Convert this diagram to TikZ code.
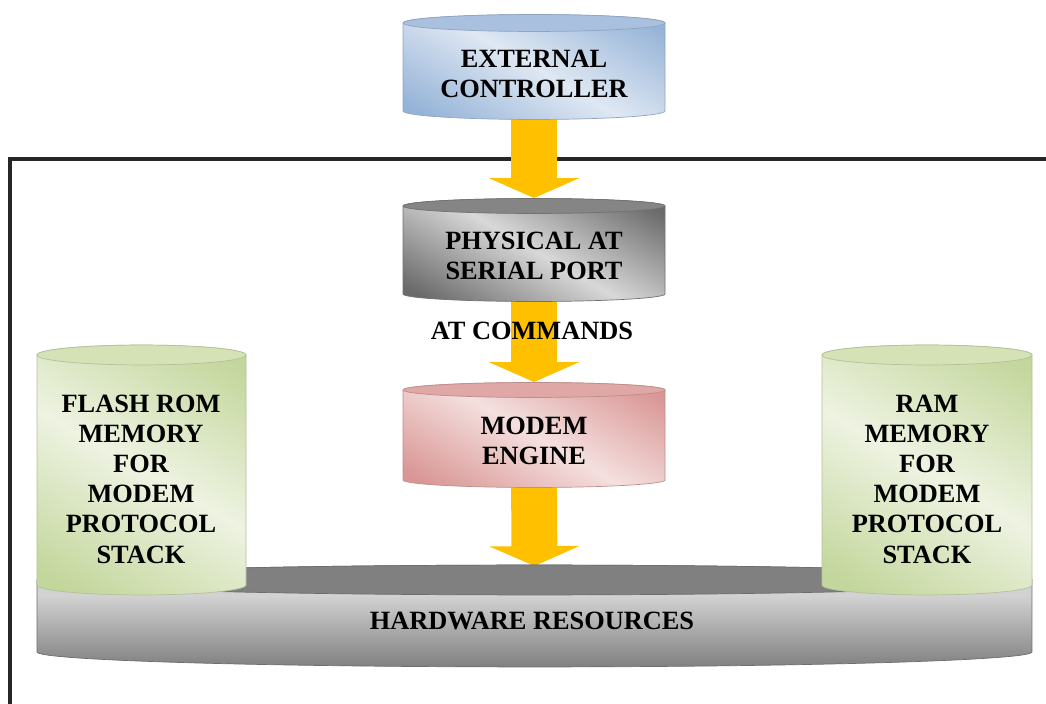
\documentclass[tikz,border=0pt]{standalone}
\usepackage{fontspec}
\setmainfont{Liberation Serif}
\usetikzlibrary{calc,arrows.meta,fit}

\definecolor{blueD}{HTML}{95B3D7}
\definecolor{blueL}{HTML}{DFE8F3}
\definecolor{blueT}{HTML}{A9C1DF}
\definecolor{greyD}{HTML}{6A6A6A}
\definecolor{greyL}{HTML}{D8D8D8}
\definecolor{greyT}{HTML}{858585}
\definecolor{pinkD}{HTML}{D99694}
\definecolor{pinkL}{HTML}{F4E0DF}
\definecolor{pinkT}{HTML}{DFA7A5}
\definecolor{greenD}{HTML}{C3D69B}
\definecolor{greenL}{HTML}{EEF3E2}
\definecolor{greenT}{HTML}{D4E2B6}
\definecolor{hwD}{HTML}{808080}
\definecolor{hwL}{HTML}{D2D2D2}
\definecolor{hwT}{HTML}{808080}
\definecolor{arrowY}{HTML}{FFC000}

\pgfdeclarehorizontalshading{blueshade}{100bp}{color(0bp)=(blueD); color(20bp)=(blueD); color(50bp)=(blueL); color(80bp)=(blueD); color(100bp)=(blueD)}
\pgfdeclarehorizontalshading{greyshade}{100bp}{color(0bp)=(greyD); color(20bp)=(greyD); color(50bp)=(greyL); color(80bp)=(greyD); color(100bp)=(greyD)}
\pgfdeclarehorizontalshading{pinkshade}{100bp}{color(0bp)=(pinkD); color(20bp)=(pinkD); color(50bp)=(pinkL); color(80bp)=(pinkD); color(100bp)=(pinkD)}
\pgfdeclarehorizontalshading{greenshade}{100bp}{color(0bp)=(greenD); color(20bp)=(greenD); color(50bp)=(greenL); color(80bp)=(greenD); color(100bp)=(greenD)}
\pgfdeclareverticalshading{hwshade}{100bp}{color(0bp)=(hwD); color(25bp)=(hwD); color(60bp)=(hwL); color(100bp)=(hwL)}

\newcommand\drawcyl[5]{%
  \path[shading=#3, shading angle=#5, draw=#4!85!black, line width=0.4pt]
    let \p1=(#1.north west), \p2=(#1.south east) in
    (\x1,\y1) -- (\x1,\y2)
    arc[start angle=180, end angle=360, x radius={0.5*(\x2-\x1)}, y radius={#2*0.5669pt}]
    -- (\x2,\y1)
    arc[start angle=0, end angle=180, x radius={0.5*(\x2-\x1)}, y radius={#2*0.5669pt}]
    -- cycle;
  \path[fill=#4, draw=#4!85!black, line width=0.4pt]
    let \p1=(#1.north west), \p2=(#1.south east) in
    (#1.north) ellipse[x radius={0.5*(\x2-\x1)}, y radius={#2*0.5669pt}];
}

\tikzset{
  cylbox/.style={inner sep=0pt, outer sep=0pt},
  lbl/.style={font=\fontsize{15}{17.2}\selectfont\bfseries, align=center, text=black, inner sep=0pt},
  bigarrow/.style={draw=arrowY, line width=26.1pt, -{Triangle[width=51pt,length=11.3pt]}},
  frameline/.style={line width=2pt, black!85},
}

\begin{document}
\begin{tikzpicture}[x=0.02cm, y=0.02cm]
\useasboundingbox (0,0) rectangle (1046,704);

% geometry holders
\node[cylbox, fit={(403,681) (665,593)}] (ext) {};
\node[cylbox, fit={(403,498) (665,410)}] (phys) {};
\node[cylbox, fit={(403,314) (665,224)}] (modem) {};
\node[cylbox, fit={(37,124) (1032,52)}] (hw) {};
\node[cylbox, fit={(37,349) (246,119)}] (flash) {};
\node[cylbox, fit={(822,349) (1032,119)}] (ram) {};

% frame
\coordinate (frTR) at (1046,545);
\coordinate (frTL) at (10,545);
\coordinate (frBL) at (10,0);
\draw[frameline] (frTR) -- (frTL) -- (frBL);

% arrows
\draw[bigarrow] (ext.south) -- ($(phys.north)+(0,8)$);
\draw[bigarrow] (phys.south) -- ($(modem.north)+(0,8)$);
\draw[bigarrow] (modem.south) -- ($(hw.north)+(0,14)$);

% cylinders
\drawcyl{ext}{8.5}{blueshade}{blueT}{60}
\drawcyl{phys}{7.5}{greyshade}{greyT}{60}
\drawcyl{modem}{7.5}{pinkshade}{pinkT}{60}
\drawcyl{hw}{15}{hwshade}{hwT}{0}
\drawcyl{flash}{10}{greenshade}{greenT}{60}
\drawcyl{ram}{10}{greenshade}{greenT}{60}

% labels
\node[lbl] (extT) at (534,630) {EXTERNAL\\CONTROLLER};
\node[lbl] (physT) at (534,448) {PHYSICAL AT\\SERIAL PORT};
\node[lbl] (atT) at (532,373) {AT COMMANDS};
\node[lbl] (modemT) at (534,263) {MODEM\\ENGINE};
\node[lbl] (hwT) at (532,83) {HARDWARE RESOURCES};
\node[lbl] (flashT) at (141,225) {FLASH ROM\\MEMORY\\FOR\\MODEM\\PROTOCOL\\STACK};
\node[lbl] (ramT) at (927,225) {RAM\\MEMORY\\FOR\\MODEM\\PROTOCOL\\STACK};
\end{tikzpicture}
\end{document}
